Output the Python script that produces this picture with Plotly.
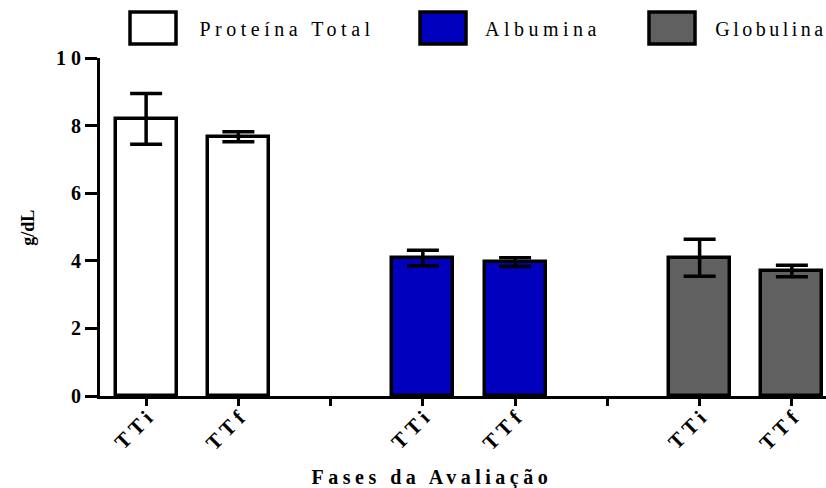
import plotly.graph_objects as go

# Serum protein fractions (g/dL) at the start (TTi) and end (TTf) of treatment
groups = ["Proteína Total", "Albumina", "Globulina"]
colors = ["#FFFFFF", "#0000BE", "#606060"]
phases = ["TTi", "TTf"]
means = [[8.20, 7.67], [4.08, 3.96], [4.09, 3.70]]
errors = [[0.75, 0.15], [0.23, 0.13], [0.55, 0.17]]

# Category slots: two phases per group with an empty slot between groups
slot_labels = ["TTi", "TTf", "", "TTi", "TTf", "", "TTi", "TTf"]
y_ticks = [0, 2, 4, 6, 8, 10]

W, H = 826, 488
L, R, T, B = 100, 0, 58, 91.5

fig = go.Figure()
for gi, name in enumerate(groups):
    xs = [gi * 3 + pi for pi in range(len(phases))]
    fig.add_trace(go.Bar(
        x=xs, y=means[gi], name=name, width=0.66,
        marker=dict(color=colors[gi], line=dict(color="black", width=3.5)),
        error_y=dict(type="data", array=errors[gi], visible=True,
                     color="black", thickness=3.5, width=16),
        showlegend=False,
    ))

serif = "Liberation Serif, Times New Roman, serif"

fig.update_layout(
    width=W, height=H,
    margin=dict(l=L, r=R, t=T, b=B, pad=0),
    paper_bgcolor="white", plot_bgcolor="white",
    bargap=0, barmode="overlay",
    font=dict(family=serif, color="black"),
    xaxis=dict(
        range=[-0.5, 7.37], tickmode="array",
        tickvals=list(range(len(slot_labels))), ticktext=slot_labels,
        tickangle=-45, ticks="outside", ticklen=7, tickwidth=3, tickcolor="black",
        ticklabelstandoff=-12, ticklabelshift=4,
        showline=True, linecolor="black", linewidth=3, showgrid=False, zeroline=False,
        tickfont=dict(family=serif, size=21, color="black", weight="bold"),
    ),
    yaxis=dict(
        range=[0, 10], tickmode="array", tickvals=y_ticks,
        ticks="outside", ticklen=12, tickwidth=3, tickcolor="black",
        ticklabelstandoff=-5,
        showline=True, linecolor="black", linewidth=3, showgrid=False, zeroline=False,
        tickfont=dict(family=serif, size=20, color="black", weight="bold"),
    ),
)


def px_x(px):
    return (px - L) / (W - L)


def px_y(py):
    return (H - B - py) / (H - T - B)


# Axis titles
fig.add_annotation(
    text="Fases da Avaliação", xref="paper", yref="paper",
    x=px_x(432), y=px_y(478), xanchor="center", yanchor="middle", showarrow=False,
    font=dict(family=serif, size=20, weight="bold", color="black"),
)
fig.add_annotation(
    text="g/dL", xref="paper", yref="paper", textangle=-90,
    x=px_x(28), y=px_y(228), xanchor="center", yanchor="middle", showarrow=False,
    font=dict(family=serif, size=18, weight="bold", color="black"),
)

# Legend: large outlined swatches across the top
swatch_left = [130, 420, 649]
label_center = [287, 543, 770.5]
for gi, name in enumerate(groups):
    x0 = swatch_left[gi]
    fig.add_shape(type="rect", xref="paper", yref="paper",
                  x0=px_x(x0), x1=px_x(x0 + 46), y0=px_y(44), y1=px_y(12),
                  fillcolor=colors[gi], line=dict(color="black", width=3.5))
    fig.add_annotation(text=name, xref="paper", yref="paper",
                       x=px_x(label_center[gi]), y=px_y(29),
                       xanchor="center", yanchor="middle", showarrow=False,
                       font=dict(family=serif, size=20, color="black"))

# Wide tracking on the text, as in the original typesetting
spacing_js = """
var gd = document.getElementById('{plot_id}');
gd.querySelectorAll('.annotation-text').forEach(function (t) {
  var s = t.textContent;
  if (s === 'g/dL') { return; }
  t.style.letterSpacing = (s === 'Globulina') ? '3.5px' : '4.5px';
});
gd.querySelectorAll('.xtick text').forEach(function (t) { t.style.letterSpacing = '5px'; });
gd.querySelectorAll('.ytick text').forEach(function (t) { t.style.letterSpacing = '5px'; });
"""

fig.write_html("out.html", post_script=spacing_js)
